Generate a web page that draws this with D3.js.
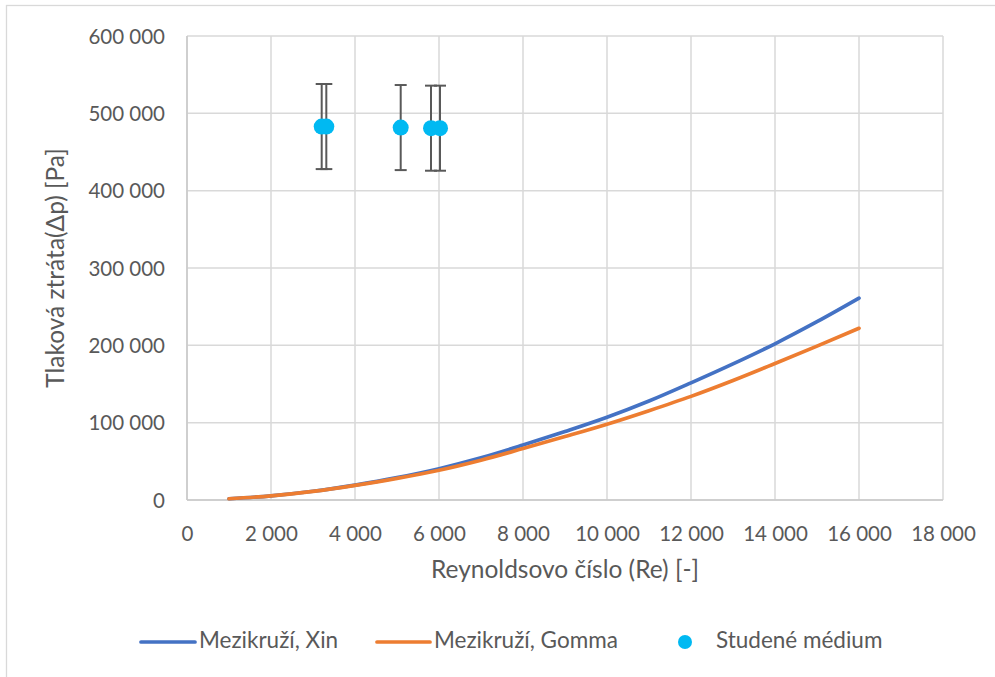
<!DOCTYPE html>
<html>
<head>
<meta charset="utf-8">
<script src="https://cdn.jsdelivr.net/npm/d3@7/dist/d3.min.js"></script>
<style>
  html, body { margin: 0; padding: 0; background: #fff; }
  svg { display: block; }
  text { font-family: Lato, "Open Sans", sans-serif; fill: #595959; }
</style>
</head>
<body>
<svg id="chart" width="995" height="677"></svg>
<script>
// ---- data ----
const reynolds = [1000, 2000, 3000, 4000, 5000, 6000, 7000, 8000, 9000, 10000, 11000, 12000, 13000, 14000, 15000, 16000];
const xinValues = [1600, 5400, 11300, 19300, 28900, 40500, 54500, 71000, 88500, 107000, 128000, 151500, 176000, 202000, 230500, 261000];
const gommaValues = [1600, 5400, 11200, 19000, 28000, 38500, 51500, 66500, 82000, 98000, 115500, 134000, 154500, 176500, 199000, 222000];
const measuredRe = [3207, 3317, 5088, 5810, 6024];
const measuredDp = [482900, 482900, 481600, 480800, 480800];
const measuredErr = [55000, 55000, 55000, 55000, 55000];
const xTicks = [0, 2000, 4000, 6000, 8000, 10000, 12000, 14000, 16000, 18000];
const yTicks = [0, 100000, 200000, 300000, 400000, 500000, 600000];
const seriesNames = ["Mezikruží, Xin", "Mezikruží, Gomma", "Studené médium"];
const xTitle = "Reynoldsovo číslo (Re) [-]";
const yTitle = "Tlaková ztráta(Δp) [Pa]";

const colors = { xin: "#4472C4", gomma: "#ED7D31", dot: "#00B9F2", err: "#595959", grid: "#d9d9d9" };

const svg = d3.select("#chart");
const plot = { left: 187, right: 943, top: 36, bottom: 500 };

const x = d3.scaleLinear().domain([0, 18000]).range([plot.left, plot.right]);
const y = d3.scaleLinear().domain([0, 600000]).range([plot.bottom, plot.top]);

const fmt = v => d3.format(",")(v).replace(/,/g, " ");

// outer chart border
svg.append("rect").attr("x", 6.5).attr("y", 5.5).attr("width", 1000).attr("height", 700)
  .attr("fill", "none").attr("stroke", colors.grid).attr("stroke-width", 1.3);

// gridlines
const g = svg.append("g");
g.selectAll("line.hg").data(yTicks).join("line")
  .attr("x1", plot.left).attr("x2", plot.right)
  .attr("y1", d => y(d)).attr("y2", d => y(d))
  .attr("stroke", colors.grid).attr("stroke-width", 1.5);
g.selectAll("line.vg").data(xTicks).join("line")
  .attr("y1", plot.top).attr("y2", plot.bottom)
  .attr("x1", d => x(d)).attr("x2", d => x(d))
  .attr("stroke", colors.grid).attr("stroke-width", 1.5);
// axis lines
g.append("line").attr("x1", plot.left).attr("x2", plot.right).attr("y1", plot.bottom).attr("y2", plot.bottom)
  .attr("stroke", "#c8c8c8").attr("stroke-width", 1.5);
g.append("line").attr("x1", plot.left).attr("x2", plot.left).attr("y1", plot.top).attr("y2", plot.bottom)
  .attr("stroke", "#c8c8c8").attr("stroke-width", 1.5);

// axes (labels only)
const xAxis = d3.axisBottom(x).tickValues(xTicks).tickFormat(fmt).tickSize(0).tickPadding(0);
const xa = svg.append("g").attr("transform", `translate(0,${plot.bottom + 26})`).call(xAxis);
xa.select(".domain").remove();
xa.selectAll("text").attr("font-size", 20.5).attr("dy", "0.71em").style("font-family", "Lato").attr("fill", "#595959");

const yAxis = d3.axisLeft(y).tickValues(yTicks).tickFormat(fmt).tickSize(0).tickPadding(0);
const ya = svg.append("g").attr("transform", `translate(${plot.left - 22},0)`).call(yAxis);
ya.select(".domain").remove();
ya.selectAll("text").attr("font-size", 20.5).attr("dy", "0.35em").style("font-family", "Lato").attr("fill", "#595959");

// titles
svg.append("text").attr("x", (plot.left + plot.right) / 2).attr("y", 572).attr("text-anchor", "middle")
  .attr("dominant-baseline", "middle").attr("font-size", 24.5).text(xTitle);
svg.append("text").attr("transform", `translate(58,${(plot.top + plot.bottom) / 2}) rotate(-90)`).attr("text-anchor", "middle")
  .attr("dominant-baseline", "middle").attr("font-size", 24.5).text(yTitle);

// lines
const line = d3.line().x(d => x(d[0])).y(d => y(d[1])).curve(d3.curveMonotoneX);
svg.append("path").datum(reynolds.map((r, i) => [r, xinValues[i]]))
  .attr("d", line).attr("fill", "none").attr("stroke", colors.xin).attr("stroke-width", 3.7).attr("stroke-linecap", "round");
svg.append("path").datum(reynolds.map((r, i) => [r, gommaValues[i]]))
  .attr("d", line).attr("fill", "none").attr("stroke", colors.gomma).attr("stroke-width", 3.7).attr("stroke-linecap", "round");

// error bars
const pts = measuredRe.map((r, i) => ({ r, v: measuredDp[i], e: measuredErr[i] }));
const eb = svg.append("g").attr("stroke", colors.err).attr("stroke-width", 2);
eb.selectAll("line.v").data(pts).join("line")
  .attr("x1", d => x(d.r)).attr("x2", d => x(d.r))
  .attr("y1", d => y(d.v + d.e)).attr("y2", d => y(d.v - d.e));
eb.selectAll("line.t").data(pts).join("line")
  .attr("x1", d => x(d.r) - 6).attr("x2", d => x(d.r) + 6)
  .attr("y1", d => y(d.v + d.e)).attr("y2", d => y(d.v + d.e));
eb.selectAll("line.b").data(pts).join("line")
  .attr("x1", d => x(d.r) - 6).attr("x2", d => x(d.r) + 6)
  .attr("y1", d => y(d.v - d.e)).attr("y2", d => y(d.v - d.e));

// points
svg.append("g").selectAll("circle").data(pts).join("circle")
  .attr("cx", d => x(d.r)).attr("cy", d => y(d.v)).attr("r", 8).attr("fill", colors.dot);

// legend
const lg = svg.append("g").attr("font-size", 22.5);
const ly = 642;
lg.append("line").attr("x1", 141).attr("x2", 195).attr("y1", ly).attr("y2", ly).attr("stroke", colors.xin).attr("stroke-width", 3.7).attr("stroke-linecap", "round");
lg.append("text").attr("x", 199).attr("y", ly).attr("dominant-baseline", "middle").text(seriesNames[0]);
lg.append("line").attr("x1", 377).attr("x2", 430).attr("y1", ly).attr("y2", ly).attr("stroke", colors.gomma).attr("stroke-width", 3.7).attr("stroke-linecap", "round");
lg.append("text").attr("x", 434).attr("y", ly).attr("dominant-baseline", "middle").text(seriesNames[1]);
lg.append("circle").attr("cx", 685).attr("cy", ly).attr("r", 7).attr("fill", colors.dot);
lg.append("text").attr("x", 716).attr("y", ly).attr("dominant-baseline", "middle").text(seriesNames[2]);
</script>
</body>
</html>
